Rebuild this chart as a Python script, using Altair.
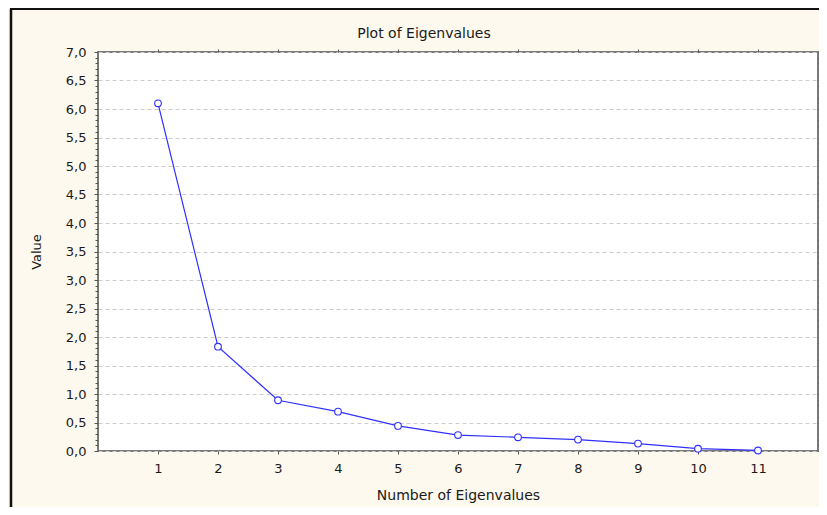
import altair as alt
import pandas as pd

# ---- data ----
eigen_number = [1, 2, 3, 4, 5, 6, 7, 8, 9, 10, 11]
eigen_value = [6.10, 1.83, 0.89, 0.69, 0.44, 0.28, 0.24, 0.20, 0.13, 0.04, 0.01]
x_ticks = [1, 2, 3, 4, 5, 6, 7, 8, 9, 10, 11]
y_major = [round(i * 0.5, 1) for i in range(15)]
y_minor = [round(i * 0.1, 1) for i in range(71)]

df = pd.DataFrame({"n": eigen_number, "v": eigen_value})
frame_df = pd.DataFrame({"a": [0]})

FONT = "DejaVu Sans"
comma = "replace(format(datum.value, '.1f'), '.', ',')"
TICK = "#555555"
TXT = "#1a1a1a"

xs = alt.Scale(domain=[0, 12], nice=False, zero=False)
ys = alt.Scale(domain=[0, 7], nice=False)

line = alt.Chart(df).mark_line(color="#3030ff", strokeWidth=1.2).encode(
    x=alt.X("n:Q", scale=xs, axis=alt.Axis(
        orient="bottom", values=x_ticks, title="Number of Eigenvalues",
        grid=False, domain=False, tickSize=3, tickColor=TICK,
        labelPadding=8, titlePadding=13, labelFont=FONT, labelFontSize=13,
        titleFont=FONT, titleFontSize=14, titleFontWeight="normal",
        labelColor=TXT, titleColor=TXT)),
    y=alt.Y("v:Q", scale=ys, axis=alt.Axis(
        orient="left", values=y_major, labelExpr=comma, title="Value",
        grid=True, gridDash=[4, 3], gridColor="#cccccc", domain=False,
        tickSize=4, tickColor=TICK, labelPadding=8, titlePadding=22,
        labelFont=FONT, labelFontSize=13, titleFont=FONT, titleFontSize=13,
        titleFontWeight="normal", labelColor=TXT, titleColor=TXT)),
)

points = alt.Chart(df).mark_point(
    shape="circle", filled=False, fill="white", fillOpacity=1,
    color="#3030ff", size=45, strokeWidth=1.1, opacity=1
).encode(
    x=alt.X("n:Q", scale=xs, axis=alt.Axis(
        orient="top", values=x_ticks, labels=False, title=None, grid=False,
        domain=False, tickSize=3, tickColor=TICK)),
    y=alt.Y("v:Q", scale=ys, axis=alt.Axis(
        orient="right", values=y_minor, labels=False, title=None, grid=False,
        domain=False, tickSize=3, tickColor=TICK)),
)

minor_left = alt.Chart(df).mark_point(opacity=0).encode(
    x=alt.X("n:Q", scale=xs, axis=None),
    y=alt.Y("v:Q", scale=ys, axis=alt.Axis(
        orient="left", values=y_minor, labels=False, title=None, grid=False,
        domain=False, tickSize=3, tickColor=TICK)),
)

border_left = alt.Chart(frame_df).mark_rule(color="#111111", strokeWidth=2.5).encode(
    x=alt.value(-87), y=alt.value(-43), y2=alt.value(480))
border_top = alt.Chart(frame_df).mark_rule(color="#111111", strokeWidth=2).encode(
    x=alt.value(-88), x2=alt.value(740), y=alt.value(-43))

chart = alt.layer(minor_left, line, points, border_left, border_top).resolve_axis(
    x="independent", y="independent"
).properties(
    width=720, height=399,
    autosize=alt.AutoSizeParams(type="none"),
    padding={"left": 90, "top": 44, "right": 1, "bottom": 56},
    background="#FEF9EE",
    title=alt.TitleParams("Plot of Eigenvalues", font=FONT, fontSize=14,
                          fontWeight="normal", anchor="middle", frame="bounds",
                          offset=-33, color=TXT),
).configure_view(
    fill="white", stroke="#7a7a7a", strokeWidth=2
)

chart.save("out.html", embed_options={"renderer": "svg", "actions": False})
